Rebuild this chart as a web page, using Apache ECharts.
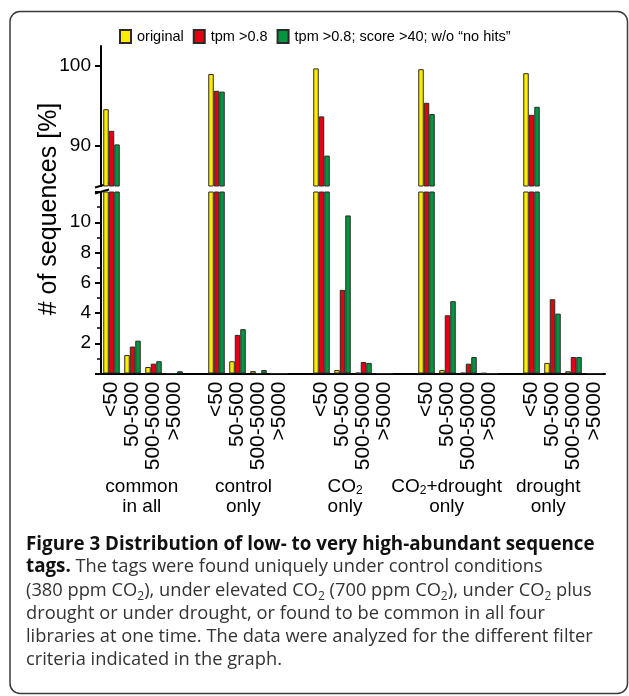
<!DOCTYPE html>
<html>
<head>
<meta charset="utf-8">
<script src="https://cdn.jsdelivr.net/npm/echarts@6/dist/echarts.min.js"></script>
<style>
html,body{margin:0;padding:0;background:#fff;}
#chart{width:629px;height:696px;}
</style>
</head>
<body>
<div id="chart"></div>
<script>
// ---- data ----
const groupNames = ['common\nin all', 'control\nonly', 'CO{sub|2}\nonly', 'CO{sub|2}+drought\nonly', 'drought\nonly'];
const sizeClasses = ['<50', '50-500', '500-5000', '>5000'];
const seriesNames = ['original', 'tpm >0.8', 'tpm >0.8; score >40; w/o \u201cno hits\u201d'];
// values per group: <50, 50-500, 500-5000, >5000
const original = [94.6, 1.22, 0.43, 0,   99.0, 0.81, 0.16, 0,   99.7, 0.23, 0.05, 0,   99.6, 0.23, 0.05, 0.03,  99.1, 0.70, 0.15, 0];
const tpm      = [91.9, 1.78, 0.65, 0,   96.9, 2.55, 0,    0,   93.7, 5.53, 0.76, 0,   95.4, 3.85, 0.65, 0,     93.9, 4.91, 1.09, 0];
const filtered = [90.2, 2.17, 0.81, 0.15, 96.8, 2.93, 0.23, 0,  88.8, 10.45, 0.70, 0,  94.0, 4.78, 1.09, 0,     94.9, 3.96, 1.09, 0];
const upperTicks = [90, 100];
const lowerTicks = [2, 4, 6, 8, 10];
const upperMin = 85, upperMax = 102.5;
const lowerMin = 0, lowerMax = 12;
const captionLines = [
  '{b|Figure 3 Distribution of low- to very high-abundant sequence}',
  '{b|tags.} The tags were found uniquely under control conditions',
  '(380 ppm CO{sub|2}), under elevated CO{sub|2} (700 ppm CO{sub|2}), under CO{sub|2} plus',
  'drought or under drought, or found to be common in all four',
  'libraries at one time. The data were analyzed for the different filter',
  'criteria indicated in the graph.'
];
const yTitle = '# of sequences [%]';

// ---- build categories with one empty slot between groups ----
const categories = [];
groupNames.forEach((g, gi) => {
  sizeClasses.forEach(s => categories.push(s));
  if (gi < groupNames.length - 1) categories.push('');
});
function expand(vals) {
  const out = [];
  groupNames.forEach((g, gi) => {
    for (let k = 0; k < sizeClasses.length; k++) out.push(vals[gi * sizeClasses.length + k]);
    if (gi < groupNames.length - 1) out.push(null);
  });
  return out;
}
const colors = ['#FFEC00', '#E3000F', '#00963F'];
const valueSets = [original, tpm, filtered];

const FONT = 'Liberation Sans, Arial, sans-serif';
const barStyle = (c) => ({ color: c, borderColor: '#2a2a2a', borderWidth: 1 });

const series = [];
valueSets.forEach((vals, i) => {
  const full = expand(vals);
  series.push({
    name: seriesNames[i], type: 'bar', xAxisIndex: 0, yAxisIndex: 0,
    data: full.map(v => (v != null && v > upperMin) ? v : null),
    barWidth: 5.5, barGap: '0%', itemStyle: barStyle(colors[i]), clip: true
  });
  series.push({
    name: seriesNames[i], type: 'bar', xAxisIndex: 1, yAxisIndex: 1,
    data: full,
    barWidth: 5.5, barGap: '0%', itemStyle: barStyle(colors[i]), clip: true
  });
});

const captionBaselines = [551, 573.5, 597, 620, 643, 666];
const CAP_FONT = '"Open Sans", "Noto Sans", sans-serif';
const graphic = [
  { type: 'rect', shape: { x: 10, y: 11.5, width: 617.5, height: 682, r: 10 },
    style: { fill: 'none', stroke: '#3a3a3a', lineWidth: 1.5 }, silent: true, z: -1 },
  { type: 'text', x: 49, y: 209, rotation: Math.PI / 2,
    style: { text: yTitle, fontSize: 25, fontFamily: FONT, fill: '#000', align: 'center', verticalAlign: 'middle' } },
  { type: 'line', shape: { x1: 95, y1: 187.5, x2: 109, y2: 183.5 }, style: { stroke: '#000', lineWidth: 2 } },
  { type: 'line', shape: { x1: 95, y1: 193.5, x2: 109, y2: 189.5 }, style: { stroke: '#000', lineWidth: 2 } }
];
captionLines.forEach((t, i) => {
  graphic.push({
    type: 'text', x: 26, y: captionBaselines[i] - 6.5,
    style: {
      text: t, fontSize: 18.3, fontFamily: CAP_FONT, fill: '#333', lineHeight: 24,
      align: 'left', verticalAlign: 'middle',
      rich: {
        b: { fontSize: 18.8, fontFamily: CAP_FONT, fontWeight: 'bold', fill: '#111', lineHeight: 24 },
        sub: { fontSize: 12, fontFamily: CAP_FONT, fill: '#333', lineHeight: 12, verticalAlign: 'bottom' }
      }
    }
  });
});

const chart = echarts.init(document.getElementById('chart'), null, { renderer: 'canvas' });
chart.setOption({
  animation: false,
  backgroundColor: '#fff',
  textStyle: { fontFamily: FONT },
  legend: {
    left: 119, top: 29, padding: 0, itemWidth: 11, itemHeight: 13, itemGap: 9,
    icon: 'rect', data: seriesNames,
    textStyle: { fontSize: 14.5, color: '#000', fontFamily: FONT, padding: [0, 0, 0, 1] }
  },
  grid: [
    { left: 101, top: 46, width: 504, height: 140 },
    { left: 101, top: 192, width: 504, height: 181.5 },
    { left: 91, top: 470, width: 508, height: 1 }
  ],
  xAxis: [
    { gridIndex: 0, type: 'category', data: categories, show: false },
    { gridIndex: 1, type: 'category', data: categories,
      axisLine: { lineStyle: { color: '#000', width: 2 } },
      axisTick: { alignWithLabel: true, length: 8, lineStyle: { color: '#000', width: 2 },
                  interval: (idx, val) => val !== '' },
      axisLabel: { interval: 0, rotate: 90, fontSize: 21, color: '#000', margin: 8, fontFamily: FONT }
    },
    { gridIndex: 2, type: 'category', data: groupNames,
      axisLine: { show: false }, axisTick: { show: false },
      axisLabel: { interval: 0, fontSize: 19, lineHeight: 20, color: '#000', margin: 6, fontFamily: FONT,
        rich: { sub: { fontSize: 12, lineHeight: 12, verticalAlign: 'bottom', color: '#000', fontFamily: FONT } } }
    }
  ],
  yAxis: [
    { gridIndex: 0, type: 'value', min: upperMin, max: upperMax,
      splitLine: { show: false },
      axisLine: { show: true, lineStyle: { color: '#000', width: 2 } },
      axisTick: { show: true, length: 6, lineStyle: { color: '#000', width: 2 }, customValues: upperTicks },
      axisLabel: { customValues: upperTicks, fontSize: 19, color: '#000', margin: 10, fontFamily: FONT }
    },
    { gridIndex: 1, type: 'value', min: lowerMin, max: lowerMax, interval: 2,
      splitLine: { show: false },
      axisLine: { show: true, lineStyle: { color: '#000', width: 2 } },
      axisTick: { show: true, length: 6, lineStyle: { color: '#000', width: 2 } },
      minorTick: { show: true, splitNumber: 2, length: 4, lineStyle: { color: '#000', width: 1.5 } },
      minorSplitLine: { show: false },
      axisLabel: { customValues: lowerTicks, fontSize: 19, color: '#000', margin: 10, fontFamily: FONT }
    },
    { gridIndex: 2, type: 'value', show: false }
  ],
  series: series,
  graphic: graphic
});
</script>
</body>
</html>
